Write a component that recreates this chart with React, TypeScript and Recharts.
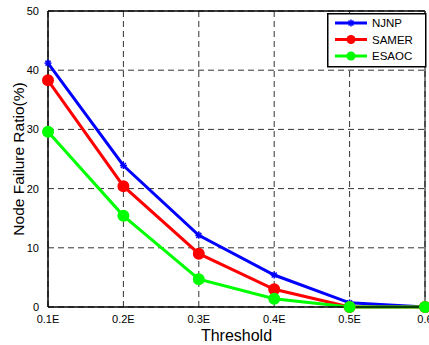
import React from 'react';
import { LineChart, Line, XAxis, YAxis, CartesianGrid, ReferenceLine } from 'recharts';

const categories = ['0.1E', '0.2E', '0.3E', '0.4E', '0.5E', '0.6'];
const njnp = [41.2, 23.9, 12.1, 5.4, 0.7, 0];
const samer = [38.3, 20.4, 9.0, 3.0, 0, 0];
const esaoc = [29.6, 15.4, 4.7, 1.4, 0, 0];
const yTicks = [0, 10, 20, 30, 40, 50];

const data = categories.map((c, i) => ({ c, njnp: njnp[i], samer: samer[i], esaoc: esaoc[i] }));

const font = 'Arial, "Liberation Sans", sans-serif';

const Star = (props: any) => {
  const { cx, cy } = props;
  if (cx == null || cy == null) return null;
  const r = 3.5;
  return (
    <g stroke="#0000ff" strokeWidth={1.5}>
      <line x1={cx - r} y1={cy} x2={cx + r} y2={cy} />
      <line x1={cx} y1={cy - r} x2={cx} y2={cy + r} />
      <line x1={cx - 2.5} y1={cy - 2.5} x2={cx + 2.5} y2={cy + 2.5} />
      <line x1={cx - 2.5} y1={cy + 2.5} x2={cx + 2.5} y2={cy - 2.5} />
    </g>
  );
};

const series = [
  { name: 'NJNP', color: '#0000ff', star: true },
  { name: 'SAMER', color: '#ff0000', star: false },
  { name: 'ESAOC', color: '#00ff00', star: false },
];

const LegendBox = () => (
  <svg width={100} height={55} style={{ display: 'block', position: 'absolute', left: 327, top: 13 }}>
    <rect x={0.75} y={0.75} width={98} height={53} fill="#fff" stroke="#000" strokeWidth={1.5} />
    {series.map((s, i) => {
      const y = 10 + i * 16.5;
      return (
        <g key={s.name}>
          <line x1={8} y1={y} x2={40} y2={y} stroke={s.color} strokeWidth={3} />
          {s.star ? <Star cx={24} cy={y} /> : <circle cx={24} cy={y} r={4.5} fill={s.color} />}
          <text x={45} y={y + 4} fontSize={11.5} fontFamily={font} fill="#000">{s.name}</text>
        </g>
      );
    })}
  </svg>
);

export default function App() {
  return (
    <div style={{ position: 'absolute', left: 0, top: 0, width: 429, height: 345, background: '#fff', overflow: 'hidden' }}>
      <LineChart width={429} height={345} data={data} margin={{ top: 11, right: 4, bottom: 8, left: 0 }}>
        <CartesianGrid stroke="#333" strokeDasharray="6 4" strokeWidth={1} />
        <XAxis
          dataKey="c"
          height={30}
          tickLine={false}
          axisLine={{ stroke: '#000', strokeWidth: 1.5 }}
          tick={{ fill: '#000', fontSize: 11, fontFamily: font }}
          tickMargin={2}
          interval={0}
          label={{ value: 'Threshold', position: 'insideBottom', offset: -4, fill: '#000', fontSize: 16, fontFamily: font }}
        />
        <YAxis
          width={48}
          domain={[0, 50]}
          ticks={yTicks}
          tickLine={false}
          axisLine={{ stroke: '#000', strokeWidth: 1.5 }}
          tick={{ fill: '#000', fontSize: 11, fontFamily: font }}
          tickMargin={3}
          label={{ value: 'Node Failure Ratio(%)', angle: -90, position: 'insideLeft', offset: 18, style: { textAnchor: 'middle' }, fill: '#000', fontSize: 15.5, fontFamily: font }}
        />
        <ReferenceLine y={50} stroke="#000" strokeWidth={1.5} />
        <ReferenceLine x="0.6" stroke="#000" strokeWidth={1} />
        <Line dataKey="njnp" name="NJNP" stroke="#0000ff" strokeWidth={3} dot={<Star />} isAnimationActive={false} />
        <Line dataKey="samer" name="SAMER" stroke="#ff0000" strokeWidth={3} dot={{ r: 4.5, fill: '#ff0000', stroke: '#ff0000' }} isAnimationActive={false} />
        <Line dataKey="esaoc" name="ESAOC" stroke="#00ff00" strokeWidth={3} dot={{ r: 4.5, fill: '#00ff00', stroke: '#00ff00' }} isAnimationActive={false} />
      </LineChart>
      <LegendBox />
    </div>
  );
}
